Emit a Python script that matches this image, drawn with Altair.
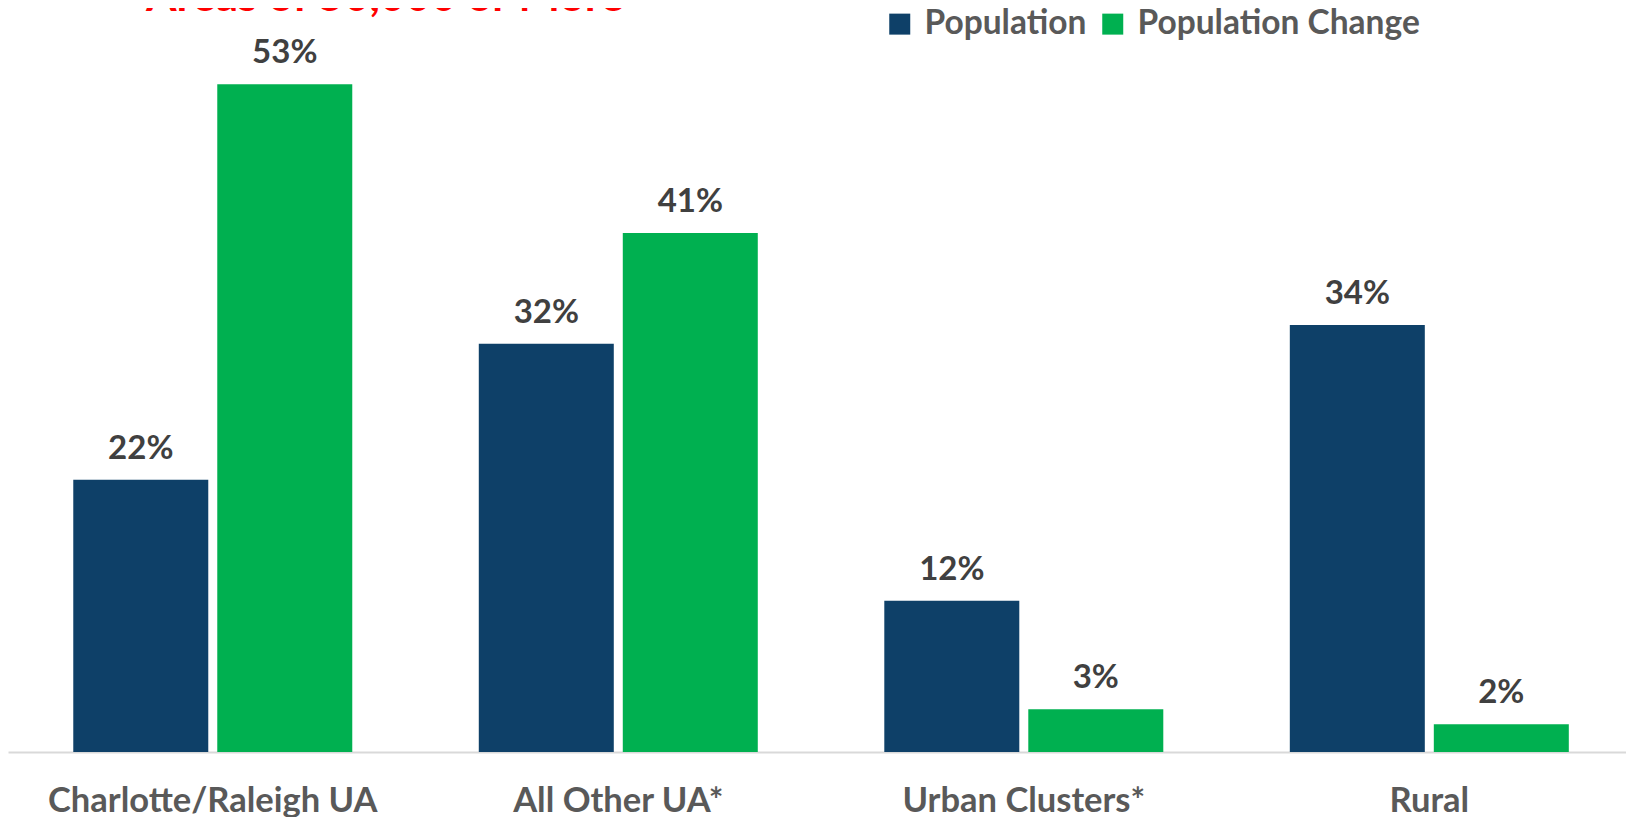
import altair as alt
import pandas as pd

# ---- data ----
categories = ["Charlotte/Raleigh UA", "All Other UA*", "Urban Clusters*", "Rural"]
series_names = ["Population", "Population Change"]
population = [21.6, 32.4, 12.0, 33.9]
population_change = [53.0, 41.2, 3.4, 2.2]
title_text = "Areas of 50,000 or More"

colors = ["#0E4068", "#00B050"]
FONT = "Lato"

rows = []
for c, p, g in zip(categories, population, population_change):
    rows.append({"category": c, "series": series_names[0], "value": p})
    rows.append({"category": c, "series": series_names[1], "value": g})
df = pd.DataFrame(rows)

x_enc = alt.X(
    "category:N",
    sort=categories,
    scale=alt.Scale(paddingInner=0.312, paddingOuter=0.151, align=0.533),
    axis=alt.Axis(
        title=None,
        labelAngle=0,
        ticks=False,
        tickSize=0,
        labelPadding=59,
        labelBaseline="alphabetic",
        labelLimit=0,
        labelFont=FONT,
        labelFontSize=34.5,
        labelFontWeight="bold",
        labelColor="#595959",
        domainColor="#D9D9D9",
        domainWidth=2,
        grid=False,
    ),
)
xoff_enc = alt.XOffset(
    "series:N", sort=series_names, scale=alt.Scale(paddingInner=0.0625, paddingOuter=0)
)
y_enc = alt.Y(
    "value:Q",
    scale=alt.Scale(domain=[0, 59.05], nice=False, zero=True),
    axis=None,
)

bars = alt.Chart(df).mark_bar(size=135).encode(
    x=x_enc,
    xOffset=xoff_enc,
    y=y_enc,
    color=alt.Color(
        "series:N",
        sort=series_names,
        scale=alt.Scale(domain=series_names, range=colors),
        legend=alt.Legend(
            title=None,
            orient="none",
            legendX=875,
            legendY=-1,
            direction="horizontal",
            symbolType="square",
            symbolSize=441,
            symbolStrokeWidth=0,
            symbolOpacity=1,
            labelFont=FONT,
            labelFontSize=33.5,
            labelFontWeight="bold",
            labelColor="#595959",
            labelLimit=0,
            labelOffset=8,
            columnPadding=9,
            padding=0,
        ),
    ),
)

labels = (
    alt.Chart(df)
    .transform_calculate(label="format(datum.value, '.0f') + '%'")
    .mark_text(
        dy=-31,
        baseline="middle",
        font=FONT,
        fontSize=33,
        fontWeight="bold",
        color="#404040",
    )
    .encode(x=x_enc, xOffset=xoff_enc, y=y_enc, text="label:N")
)

title = (
    alt.Chart(pd.DataFrame({"t": [title_text]}))
    .mark_text(
        align="left",
        baseline="alphabetic",
        font=FONT,
        fontSize=44,
        fontWeight="bold",
        color="#FF0000",
    )
    .encode(text="t:N", x=alt.value(138), y=alt.value(3))
)

chart = (
    alt.layer(bars, labels, title)
    .properties(
        width=1618,
        height=744,
        autosize=alt.AutoSizeParams(type="none"),
        padding={"left": 0, "top": 0, "right": 0, "bottom": 65},
    )
    .configure(background="white", view=alt.ViewConfig(stroke=None, strokeWidth=0))
)

chart.save("out.html", embed_options={"renderer": "svg", "actions": False})
